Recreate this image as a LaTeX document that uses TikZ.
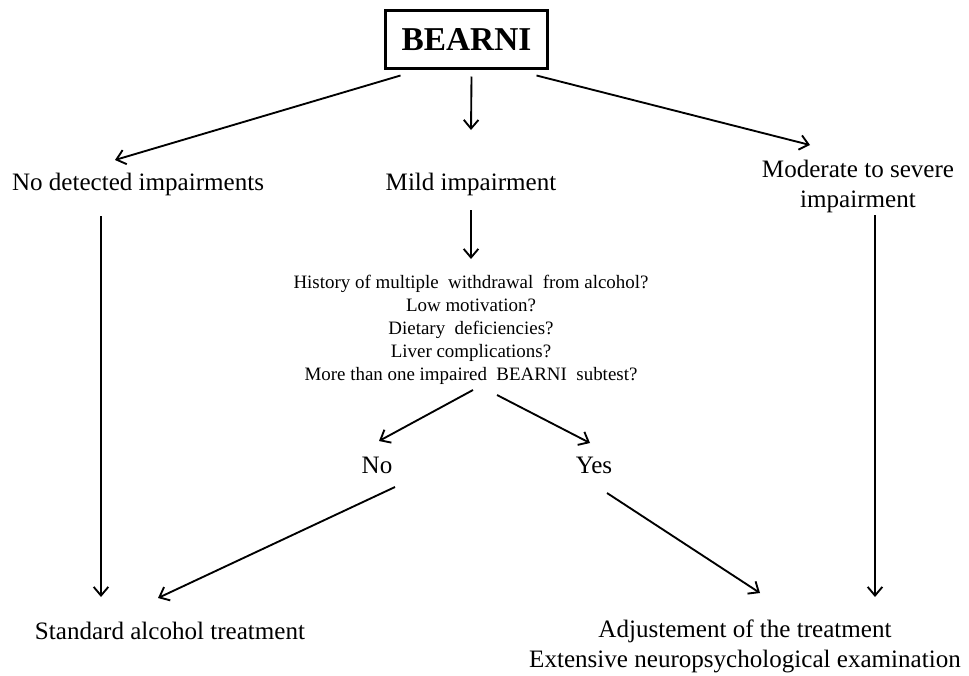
\documentclass[tikz,border=0pt]{standalone}
\usepackage{fontspec}
\setmainfont{Liberation Serif}
\usetikzlibrary{arrows.meta}

\tikzset{
    arr/.style={-{Straight Barb[length=6.5pt,width=11pt,line width=1.4pt]}, line width=1.4pt},
    txt/.style={inner sep=0pt, font=\fontsize{18.8}{22.5}\selectfont},
    qtxt/.style={inner sep=0pt, align=center, font=\fontsize{14.2}{17.3}\selectfont}
}

\begin{document}
\begin{tikzpicture}[x=0.75pt, y=-0.75pt]
        \fill[white] (0,0) rectangle (969,675);
        \useasboundingbox (0,0) rectangle (969,675);

        % Test box
        \node[draw, line width=2.2pt, minimum width=122pt, minimum height=43pt,
              font=\fontsize{25}{30}\selectfont\bfseries] (bearni) at (466.5,39.5) {BEARNI};

        % Three outcomes
        \node[txt, anchor=base] (nodet) at (138,190) {No detected impairments};
        \node[txt, anchor=base] (mild) at (471,190) {Mild impairment};
        \node[txt, align=center] (modsev) at (858,186) {Moderate to severe\\impairment};

        \draw[arr] ([shift={(-66,36)}]bearni.center) -- ([shift={(-23,-30)}]nodet.base);
        \draw[arr] ([shift={(5,37)}]bearni.center) -- ([shift={(0,-60)}]mild.base);
        \draw[arr] ([shift={(70,36)}]bearni.center) -- ([shift={(-48,-41)}]modsev.center);

        % Questions for mild impairment
        \node[qtxt] (quest) at (471,330) {History of multiple\ \ withdrawal\ \ from alcohol?\\
            Low motivation?\\ Dietary\ \ deficiencies?\\ Liver complications?\\
            More than one impaired\ \ BEARNI\ \ subtest?};
        \node[txt, anchor=base] (no) at (377,473) {No};
        \node[txt, anchor=base] (yes) at (594,473) {Yes};

        \draw[arr] ([shift={(0,20)}]mild.base) -- ([shift={(0,-71)}]quest.center);
        \draw[arr] ([shift={(2,60)}]quest.center) -- ([shift={(2,-32)}]no.base);
        \draw[arr] ([shift={(26,65)}]quest.center) -- ([shift={(-4,-30)}]yes.base);

        % Decisions
        \node[txt, anchor=base] (std) at (170,639) {Standard alcohol treatment};
        \node[txt, align=center] (adj) at (745,646) {Adjustement of the treatment\\
            Extensive neuropsychological examination};

        \draw[arr] ([shift={(-37,26)}]nodet.base) -- ([shift={(-69,-42)}]std.base);
        \draw[arr] ([shift={(18,14)}]no.base) -- ([shift={(-12,-41)}]std.base);
        \draw[arr] ([shift={(13,20)}]yes.base) -- ([shift={(15,-53)}]adj.center);
        \draw[arr] ([shift={(17,29)}]modsev.center) -- ([shift={(130,-49)}]adj.center);
    \end{tikzpicture}
\end{document}
